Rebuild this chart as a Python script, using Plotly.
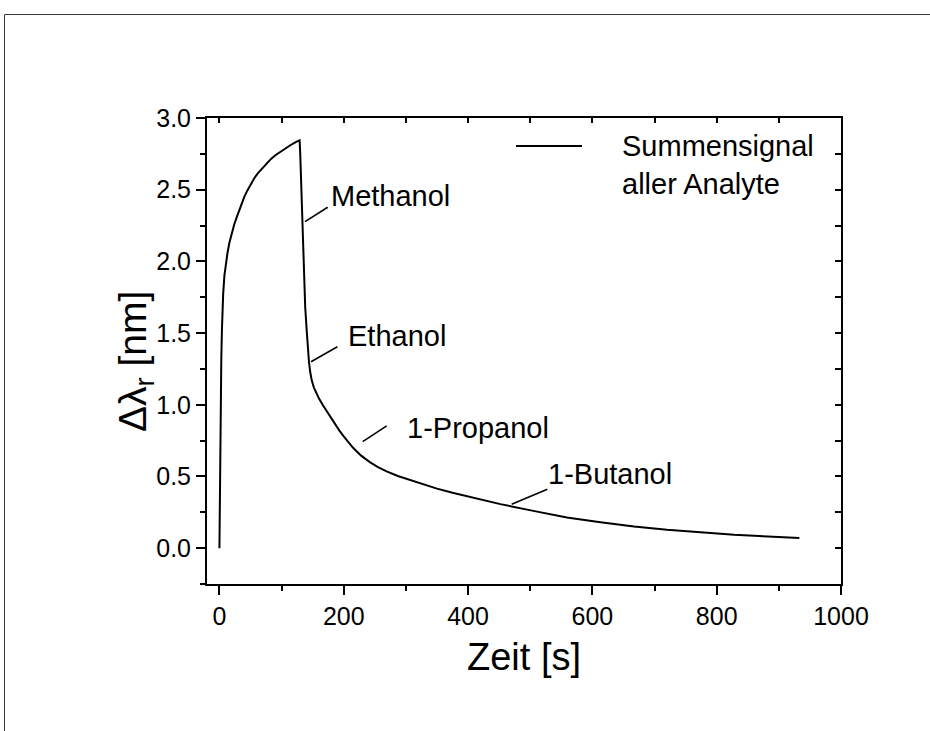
import numpy as np
import plotly.graph_objects as go

# Sum signal of all analytes: resonance shift vs. time
time_s = [0, 1, 2, 3, 4, 5, 6, 8, 10, 13, 16, 20, 24, 28, 32, 36, 40, 45, 50,
          56, 62, 69, 76, 83, 90, 98, 106, 114, 122, 129,
          130, 131, 132.4, 134, 136, 138, 140.4, 142, 144, 146, 148.5, 152, 156,
          160, 166, 172, 179, 186, 193, 200, 207, 215, 228, 242, 255, 269, 287,
          306, 328, 350, 375, 400, 426, 452, 505, 559, 613, 667, 720, 774, 828,
          882, 933]
shift_nm = [0.0, 0.62, 1.05, 1.32, 1.52, 1.66, 1.77, 1.90, 1.98, 2.06, 2.13, 2.20,
            2.26, 2.31, 2.36, 2.41, 2.45, 2.495, 2.535, 2.58, 2.615, 2.65, 2.685,
            2.715, 2.74, 2.765, 2.79, 2.81, 2.83, 2.845,
            2.75, 2.60, 2.45, 2.20, 1.87, 1.68, 1.52, 1.40, 1.30, 1.23, 1.17, 1.12,
            1.08, 1.045, 1.00, 0.96, 0.91, 0.865, 0.82, 0.78, 0.74, 0.70, 0.645,
            0.60, 0.565, 0.535, 0.503, 0.475, 0.444, 0.415, 0.386, 0.36, 0.333,
            0.307, 0.26, 0.214, 0.18, 0.151, 0.128, 0.11, 0.093, 0.082, 0.07]

# Analyte labels and where their leader lines start (data coordinates)
label_names = ["Methanol", "Ethanol", "1-Propanol", "1-Butanol"]
label_x = [137.7, 147.4, 230.5, 470.2]
label_y = [2.277, 1.30, 0.743, 0.306]

# Leader line end offsets and text offsets in pixels (x right, y up)
leader_dx = [22.7, 26.3, 24.0, 35.6]
leader_dy = [14.4, 15.0, 15.7, 15.0]
text_dx = [24.0, 34.7, 42.3, 34.0]
text_dy = [26.0, 25.7, 13.7, 29.8]

legend_text = "Summensignal<br>aller Analyte"

FONT = "Liberation Sans, Arial, Helvetica, sans-serif"
W, H = 930, 731
L, R, T, B = 207, 89, 118, 147
PW, PH = W - L - R, H - T - B


def px_to_paper(px, py):
    return (px - L) / PW, (H - B - py) / PH


fig = go.Figure()
fig.add_trace(go.Scatter(x=time_s, y=shift_nm, mode="lines",
                         line=dict(color="black", width=2),
                         showlegend=False, hoverinfo="x+y"))
# empty trace to carry the mirrored top/right axes
fig.add_trace(go.Scatter(x=[None], y=[None], xaxis="x2", yaxis="y2",
                         showlegend=False, hoverinfo="skip"))

shapes = []
annotations = []

for name, x0, y0, ldx, ldy, tdx, tdy in zip(label_names, label_x, label_y,
                                            leader_dx, leader_dy, text_dx, text_dy):
    shapes.append(dict(type="line", xref="x", yref="y",
                       xsizemode="pixel", ysizemode="pixel",
                       xanchor=x0, yanchor=y0,
                       x0=0, y0=0, x1=ldx, y1=ldy,
                       line=dict(color="black", width=1.6)))
    annotations.append(dict(x=x0, y=y0, xref="x", yref="y", text=name,
                            showarrow=False, xanchor="left", yanchor="middle",
                            xshift=tdx, yshift=tdy,
                            font=dict(family=FONT, size=29, color="black")))

# legend key
lx0, ly = px_to_paper(516, 146)
lx1, _ = px_to_paper(582, 146)
shapes.append(dict(type="line", xref="paper", yref="paper",
                   x0=lx0, x1=lx1, y0=ly, y1=ly,
                   line=dict(color="black", width=2.2)))
tx, ty = px_to_paper(620, 165)
annotations.append(dict(x=tx, y=ty, xref="paper", yref="paper", text=legend_text,
                        showarrow=False, xanchor="left", yanchor="middle", align="left",
                        font=dict(family=FONT, size=29, color="black")))

# y axis title, rotated
yx, yy = px_to_paper(135, 362)
annotations.append(dict(x=yx, y=yy, xref="paper", yref="paper",
                        text="Δλ<sub>r</sub> [nm]", textangle=-90,
                        showarrow=False, xanchor="center", yanchor="middle",
                        font=dict(family=FONT, size=39, color="black")))

# outer frame
fx0, fy1 = px_to_paper(4.5, 14.5)
fx1, fy0 = px_to_paper(960, 760)
shapes.append(dict(type="rect", xref="paper", yref="paper",
                   x0=fx0, x1=fx1, y0=fy0, y1=fy1,
                   line=dict(color="#3a3a3a", width=1), layer="below"))

xr = [-20, 1000]
yr = [-0.25, 3.0]

fig.update_layout(
    width=W, height=H,
    margin=dict(l=L, r=R, t=T, b=B, pad=0),
    paper_bgcolor="white", plot_bgcolor="white",
    font=dict(family=FONT, color="black"),
    shapes=shapes, annotations=annotations,
    xaxis=dict(range=xr, showgrid=False, zeroline=False,
               showline=True, linecolor="black", linewidth=2,
               ticks="outside", ticklen=9, tickwidth=2, tickcolor="black",
               tick0=0, dtick=200,
               minor=dict(ticks="outside", ticklen=5, tickwidth=2,
                          tickcolor="black", dtick=100, showgrid=False),
               tickfont=dict(family=FONT, size=25),
               title=dict(text="Zeit [s]", standoff=14,
                          font=dict(family=FONT, size=38))),
    yaxis=dict(range=yr, showgrid=False, zeroline=False,
               showline=True, linecolor="black", linewidth=2,
               ticks="outside", ticklen=9, tickwidth=2, tickcolor="black",
               tick0=0, dtick=0.5, tickformat=".1f",
               minor=dict(ticks="outside", ticklen=5, tickwidth=2,
                          tickcolor="black", dtick=0.25, showgrid=False),
               tickfont=dict(family=FONT, size=25)),
    xaxis2=dict(range=xr, overlaying="x", side="top", anchor="y",
                showgrid=False, zeroline=False, showticklabels=False,
                showline=True, linecolor="black", linewidth=2,
                ticks="inside", ticklen=5, tickwidth=2, tickcolor="black",
                tick0=0, dtick=100),
    yaxis2=dict(range=yr, overlaying="y", side="right", anchor="x",
                showgrid=False, zeroline=False, showticklabels=False,
                showline=True, linecolor="black", linewidth=2,
                ticks="inside", ticklen=6, tickwidth=2, tickcolor="black",
                tick0=0, dtick=0.25),
)

fig.write_html("out.html")
